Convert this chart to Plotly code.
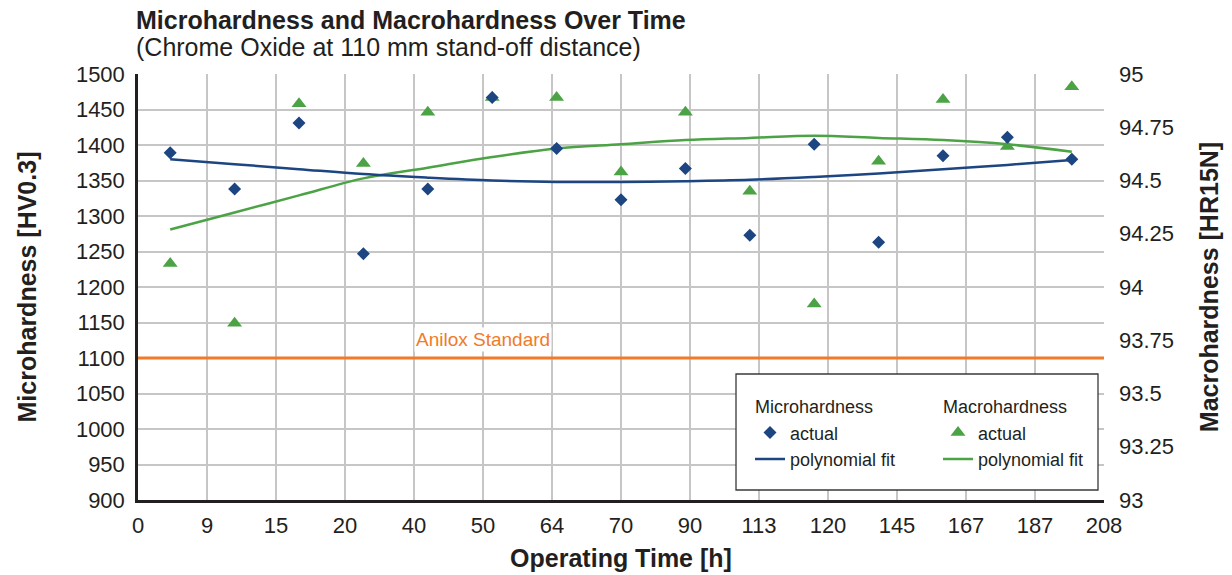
import plotly.graph_objects as go

# ---------------- data ----------------
time_labels = ["0", "9", "15", "20", "40", "50", "64", "70", "90",
               "113", "120", "145", "167", "187", "208"]
sample_ids = [1, 2, 3, 4, 5, 6, 7, 8, 9, 10, 11, 12, 13, 14, 15]

micro_actual = [1389, 1338, 1431, 1247, 1338, 1467, 1395, 1323,
                1367, 1273, 1401, 1263, 1385, 1411, 1380]
micro_fit = [1380, 1373, 1366, 1359, 1354, 1350, 1348, 1348,
             1349, 1351, 1355, 1360, 1366, 1372, 1379]

macro_actual = [94.11, 93.83, 94.86, 94.58, 94.82, 94.89, 94.89, 94.54,
                94.82, 94.45, 93.92, 94.59, 94.88, 94.66, 94.94]
macro_fit = [94.27, 94.35, 94.43, 94.51, 94.56, 94.61, 94.65, 94.67,
             94.69, 94.70, 94.71, 94.70, 94.69, 94.67, 94.635]

anilox_standard = 1100

micro_ticks = [900, 950, 1000, 1050, 1100, 1150, 1200, 1250,
               1300, 1350, 1400, 1450, 1500]
macro_ticks = [93, 93.25, 93.5, 93.75, 94, 94.25, 94.5, 94.75, 95]
macro_tick_labels = ["93", "93.25", "93.5", "93.75", "94",
                     "94.25", "94.5", "94.75", "95"]

# ---------------- style ----------------
BLUE = "#1c4582"
GREEN = "#4ca345"
ORANGE = "#f07b2a"
TEXT = "#231f20"
GRID = "#c6c6c6"
FONT = "Liberation Sans, Arial, sans-serif"
LEG_FONT = 18

n = len(time_labels)
x_lo, x_hi = sample_ids[0] - 0.5, sample_ids[-1] + 0.5
tick_pos = [x_lo + k * (x_hi - x_lo) / (n - 1) for k in range(n)]

fig = go.Figure()

# Macrohardness (right axis, base subplot)
fig.add_trace(go.Scatter(
    x=sample_ids, y=macro_actual, xaxis="x", yaxis="y",
    mode="markers", name="actual",
    marker=dict(symbol="triangle-up", size=13, color=GREEN),
    legend="legend2", legendgroup="macro",
    legendgrouptitle=dict(text="Macrohardness", font=dict(size=LEG_FONT, color=TEXT)),
))
fig.add_trace(go.Scatter(
    x=sample_ids, y=macro_fit, xaxis="x", yaxis="y",
    mode="lines", name="polynomial fit",
    line=dict(color=GREEN, width=2.5, shape="spline"),
    legend="legend2", legendgroup="macro",
))

# Microhardness (left axis, overlay)
fig.add_trace(go.Scatter(
    x=sample_ids, y=micro_actual, xaxis="x", yaxis="y2",
    mode="markers", name="actual",
    marker=dict(symbol="diamond", size=10, color=BLUE),
    legend="legend", legendgroup="micro",
    legendgrouptitle=dict(text="Microhardness", font=dict(size=LEG_FONT, color=TEXT)),
))
fig.add_trace(go.Scatter(
    x=sample_ids, y=micro_fit, xaxis="x", yaxis="y2",
    mode="lines", name="polynomial fit",
    line=dict(color=BLUE, width=2.5, shape="spline"),
    legend="legend", legendgroup="micro",
))

# plot area geometry (px)
L, R, T, B = 138, 1104, 74, 500
W, H = R - L, B - T


def px_x(p):
    return (p - L) / W


def px_y(p):
    return (B - p) / H


fig.update_layout(
    width=1232, height=575,
    margin=dict(l=L, r=1232 - R, t=T, b=575 - B, autoexpand=False),
    paper_bgcolor="white", plot_bgcolor="white",
    font=dict(family=FONT, color=TEXT, size=19),
    showlegend=True,
    xaxis=dict(
        range=[x_lo, x_hi], tickmode="array", tickvals=tick_pos, ticktext=time_labels,
        showgrid=True, gridcolor=GRID, gridwidth=1.5, automargin=False,
        showline=True, linecolor=TEXT, linewidth=2.5,
        ticks="", ticklabelstandoff=4, zeroline=False,
        tickfont=dict(size=22, color=TEXT),
        title=dict(text="<b>Operating Time [h]</b>", font=dict(size=25, color=TEXT), standoff=13),
    ),
    yaxis=dict(
        side="right", range=[93, 95], tickmode="array",
        tickvals=macro_ticks, ticktext=macro_tick_labels, automargin=False,
        showgrid=False, showline=False, zeroline=False, ticks="",
        ticklabelstandoff=14,
        tickfont=dict(size=22, color=TEXT),
        title=dict(text="<b>Macrohardness [HR15N]</b>", font=dict(size=25, color=TEXT), standoff=27),
    ),
    yaxis2=dict(
        side="left", overlaying="y", anchor="x", range=[900, 1500],
        tickmode="array", tickvals=micro_ticks, automargin=False,
        showgrid=True, gridcolor=GRID, gridwidth=1.5,
        showline=True, linecolor=TEXT, linewidth=2.5, zeroline=False,
        ticks="", ticklabelstandoff=6,
        tickfont=dict(size=22, color=TEXT),
        title=dict(text="<b>Microhardness [HV0.3]</b>", font=dict(size=25, color=TEXT), standoff=33),
    ),
    legend=dict(
        x=px_x(750), y=px_y(388), xanchor="left", yanchor="top",
        bgcolor="rgba(0,0,0,0)", borderwidth=0,
        font=dict(size=LEG_FONT, color=TEXT), tracegroupgap=0,
    ),
    legend2=dict(
        x=px_x(938), y=px_y(388), xanchor="left", yanchor="top",
        bgcolor="rgba(0,0,0,0)", borderwidth=0,
        font=dict(size=LEG_FONT, color=TEXT), tracegroupgap=0,
    ),
    shapes=[
        dict(type="line", xref="paper", x0=0, x1=1, yref="y2",
             y0=anilox_standard, y1=anilox_standard,
             line=dict(color=ORANGE, width=3), layer="above"),
        dict(type="rect", xref="paper", yref="paper",
             x0=px_x(736), x1=px_x(1098), y0=px_y(490), y1=px_y(374),
             line=dict(color="#3a3a3a", width=1.3), fillcolor="white", layer="above"),
    ],
    annotations=[
        dict(text="Anilox Standard", xref="paper", yref="y2",
             x=px_x(483), y=anilox_standard, yshift=19,
             xanchor="center", yanchor="middle", showarrow=False,
             bgcolor="white", font=dict(size=19, color=ORANGE)),
        dict(text="<b>Microhardness and Macrohardness Over Time</b>",
             xref="paper", yref="paper", x=px_x(134), y=px_y(20),
             xanchor="left", yanchor="middle", showarrow=False,
             font=dict(size=25, color=TEXT)),
        dict(text="(Chrome Oxide at 110 mm stand-off distance)",
             xref="paper", yref="paper", x=px_x(134), y=px_y(47),
             xanchor="left", yanchor="middle", showarrow=False,
             font=dict(size=25, color=TEXT)),
    ],
)

fig.write_html("out.html", config={"displayModeBar": False},
               post_script="document.body.style.margin='0';")
